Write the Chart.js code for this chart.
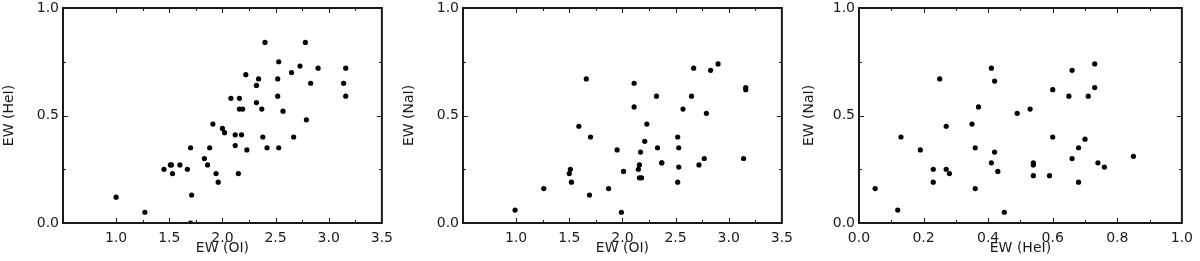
<!DOCTYPE html>
<html>
<head>
<meta charset="utf-8">
<script src="https://cdn.jsdelivr.net/npm/chart.js@4/dist/chart.umd.min.js"></script>
<style>
  body { margin: 0; background: #fff; }
  .panel { position: absolute; top: 0; width: 400px; height: 261px; }
</style>
</head>
<body>
<div class="panel" style="left:0px"><canvas id="g1" width="400" height="261"></canvas></div>
<div class="panel" style="left:400px"><canvas id="g2" width="400" height="261"></canvas></div>
<div class="panel" style="left:800px"><canvas id="g3" width="400" height="261"></canvas></div>
<script>
// Panel 1: EW(OI) vs EW(HeI)
const oiA = [1.00, 1.27, 1.45, 1.51, 1.52, 1.53, 1.60, 1.67, 1.70, 1.71, 1.70, 1.83, 1.86, 1.88, 1.91, 1.94, 1.96, 2.00, 2.02, 2.08, 2.12, 2.12, 2.15, 2.16, 2.16, 2.19, 2.18, 2.22, 2.23, 2.32, 2.32, 2.34, 2.37, 2.38, 2.40, 2.42, 2.52, 2.52, 2.53, 2.53, 2.57, 2.65, 2.67, 2.73, 2.78, 2.79, 2.83, 2.90, 3.14, 3.16, 3.16];
const heiA = [0.12, 0.05, 0.25, 0.27, 0.27, 0.23, 0.27, 0.25, 0.35, 0.13, 0.00, 0.30, 0.27, 0.35, 0.46, 0.23, 0.19, 0.44, 0.42, 0.58, 0.41, 0.36, 0.23, 0.58, 0.53, 0.53, 0.41, 0.69, 0.34, 0.64, 0.56, 0.67, 0.53, 0.40, 0.84, 0.35, 0.67, 0.59, 0.75, 0.35, 0.52, 0.70, 0.40, 0.73, 0.84, 0.48, 0.65, 0.72, 0.65, 0.72, 0.59];

// Panel 2: EW(OI) vs EW(NaI)
const oiB = [0.99, 1.26, 1.50, 1.51, 1.52, 1.59, 1.66, 1.70, 1.69, 1.87, 1.95, 1.99, 2.01, 2.11, 2.11, 2.15, 2.16, 2.16, 2.18, 2.17, 2.21, 2.23, 2.32, 2.33, 2.37, 2.37, 2.52, 2.52, 2.53, 2.53, 2.57, 2.65, 2.67, 2.72, 2.77, 2.79, 2.83, 2.90, 3.14, 3.16, 3.16];
const naiB = [0.06, 0.16, 0.23, 0.25, 0.19, 0.45, 0.67, 0.40, 0.13, 0.16, 0.34, 0.05, 0.24, 0.65, 0.54, 0.25, 0.27, 0.21, 0.21, 0.33, 0.38, 0.46, 0.59, 0.35, 0.28, 0.28, 0.40, 0.19, 0.35, 0.26, 0.53, 0.59, 0.72, 0.27, 0.30, 0.51, 0.71, 0.74, 0.30, 0.63, 0.62];

// Panel 3: EW(HeI) vs EW(NaI)
const heiC = [0.05, 0.12, 0.13, 0.19, 0.23, 0.23, 0.25, 0.27, 0.27, 0.28, 0.35, 0.36, 0.36, 0.37, 0.41, 0.41, 0.42, 0.42, 0.43, 0.45, 0.49, 0.53, 0.54, 0.54, 0.54, 0.59, 0.60, 0.60, 0.65, 0.66, 0.66, 0.68, 0.68, 0.70, 0.71, 0.73, 0.73, 0.74, 0.76, 0.85];
const naiC = [0.16, 0.06, 0.40, 0.34, 0.25, 0.19, 0.67, 0.45, 0.25, 0.23, 0.46, 0.35, 0.16, 0.54, 0.72, 0.28, 0.33, 0.66, 0.24, 0.05, 0.51, 0.53, 0.28, 0.27, 0.22, 0.22, 0.62, 0.40, 0.59, 0.71, 0.30, 0.35, 0.19, 0.39, 0.59, 0.74, 0.63, 0.28, 0.26, 0.31];

// Tick labels and tick marks
const oiLabels = ['', '1.0', '1.5', '2.0', '2.5', '3.0', '3.5'];
const oiMajor = [1.0, 1.5, 2.0, 2.5, 3.0];
const oiMinor = [1.25, 1.75, 2.25, 2.75, 3.25];
const ewLabels = ['0.0', '0.5', '1.0'];
const ewMajor = [0.5];
const ewMinor = [0.25, 0.75];
const heLabels = ['0.0', '0.2', '0.4', '0.6', '0.8', '1.0'];
const heMajor = [0.2, 0.4, 0.6, 0.8];
const heMinor = [0.1, 0.3, 0.5, 0.7, 0.9];

const FUENTE = 'DejaVu Sans';
const TINTA = '#1a1a1a';

// Frame and inward ticks on all four sides (IDL style)
const marcoPlugin = {
    id: 'marco',
    afterDatasetsDraw(chart, args, opts) {
        const ctx = chart.ctx;
        const a = chart.chartArea;
        const sx = chart.scales.x;
        const sy = chart.scales.y;
        ctx.save();
        ctx.strokeStyle = TINTA;
        ctx.lineWidth = 1;
        ctx.beginPath();
        const marcar = function (vals, len) {
            vals.forEach(function (v) {
                const px = Math.round(sx.getPixelForValue(v)) + 0.5;
                ctx.moveTo(px, a.bottom); ctx.lineTo(px, a.bottom - len);
                ctx.moveTo(px, a.top); ctx.lineTo(px, a.top + len);
            });
        };
        const marcarY = function (vals, len) {
            vals.forEach(function (v) {
                const py = Math.round(sy.getPixelForValue(v)) + 0.5;
                ctx.moveTo(a.left, py); ctx.lineTo(a.left + len, py);
                ctx.moveTo(a.right, py); ctx.lineTo(a.right - len, py);
            });
        };
        marcar(opts.xMajor, 5);
        marcar(opts.xMinor, 3);
        marcarY(opts.yMajor, 5);
        marcarY(opts.yMinor, 3);
        ctx.stroke();
        ctx.lineWidth = 2;
        ctx.strokeRect(a.left, a.top, a.right - a.left, a.bottom - a.top);
        ctx.restore();
    }
};

function crearPanel(id, xs, ys, cfg) {
    const canvas = document.getElementById(id);
    const puntos = xs.map(function (x, i) { return { x: x, y: ys[i] }; });

    new Chart(canvas.getContext('2d'), {
        type: 'scatter',
        data: {
            datasets: [{
                data: puntos,
                backgroundColor: '#000',
                borderWidth: 0,
                pointRadius: 2.6,
                clip: 0
            }]
        },
        options: {
            responsive: false,
            animation: false,
            events: [],
            layout: { padding: { left: 0, right: cfg.padRight, top: 8, bottom: 0 } },
            scales: {
                x: {
                    type: 'linear',
                    min: cfg.xMin,
                    max: cfg.xMax,
                    grid: { display: false, drawTicks: false },
                    border: { display: false },
                    ticks: {
                        stepSize: cfg.xStep,
                        autoSkip: false,
                        maxRotation: 0,
                        padding: 7,
                        color: TINTA,
                        font: { family: FUENTE, size: 14 },
                        callback: function (v, i) { return cfg.xLabels[i]; }
                    },
                    title: {
                        display: true,
                        text: cfg.xTitle,
                        color: TINTA,
                        font: { family: FUENTE, size: 14 },
                        padding: { top: 0, bottom: 4 }
                    },
                    afterFit: function (s) { s.height = 38; }
                },
                y: {
                    type: 'linear',
                    min: 0,
                    max: 1,
                    grid: { display: false, drawTicks: false },
                    border: { display: false },
                    ticks: {
                        stepSize: 0.5,
                        autoSkip: false,
                        padding: 4,
                        color: TINTA,
                        font: { family: FUENTE, size: 14 },
                        callback: function (v, i) { return ewLabels[i]; }
                    },
                    title: {
                        display: true,
                        text: cfg.yTitle,
                        color: TINTA,
                        font: { family: FUENTE, size: 14 },
                        padding: { top: 1, bottom: 0 }
                    },
                    afterFit: function (s) {
                        s.width = cfg.yWidth;
                        // keep the top "1.0" label from pushing the plot down
                        s.paddingTop = 8;
                        s.paddingBottom = 0;
                    }
                }
            },
            plugins: {
                legend: { display: false },
                tooltip: { enabled: false },
                marco: { xMajor: cfg.xMajor, xMinor: cfg.xMinor, yMajor: ewMajor, yMinor: ewMinor }
            }
        },
        plugins: [marcoPlugin]
    });
}

crearPanel('g1', oiA, heiA, {
    xMin: 0.5, xMax: 3.5, xStep: 0.5, xLabels: oiLabels, xMajor: oiMajor, xMinor: oiMinor,
    xTitle: 'EW (OI)', yTitle: 'EW (HeI)', yWidth: 63, padRight: 12
});
crearPanel('g2', oiB, naiB, {
    xMin: 0.5, xMax: 3.5, xStep: 0.5, xLabels: oiLabels, xMajor: oiMajor, xMinor: oiMinor,
    xTitle: 'EW (OI)', yTitle: 'EW (NaI)', yWidth: 63, padRight: 12
});
crearPanel('g3', heiC, naiC, {
    xMin: 0, xMax: 1, xStep: 0.2, xLabels: heLabels, xMajor: heMajor, xMinor: heMinor,
    xTitle: 'EW (HeI)', yTitle: 'EW (NaI)', yWidth: 59, padRight: 13
});
</script>
</body>
</html>
